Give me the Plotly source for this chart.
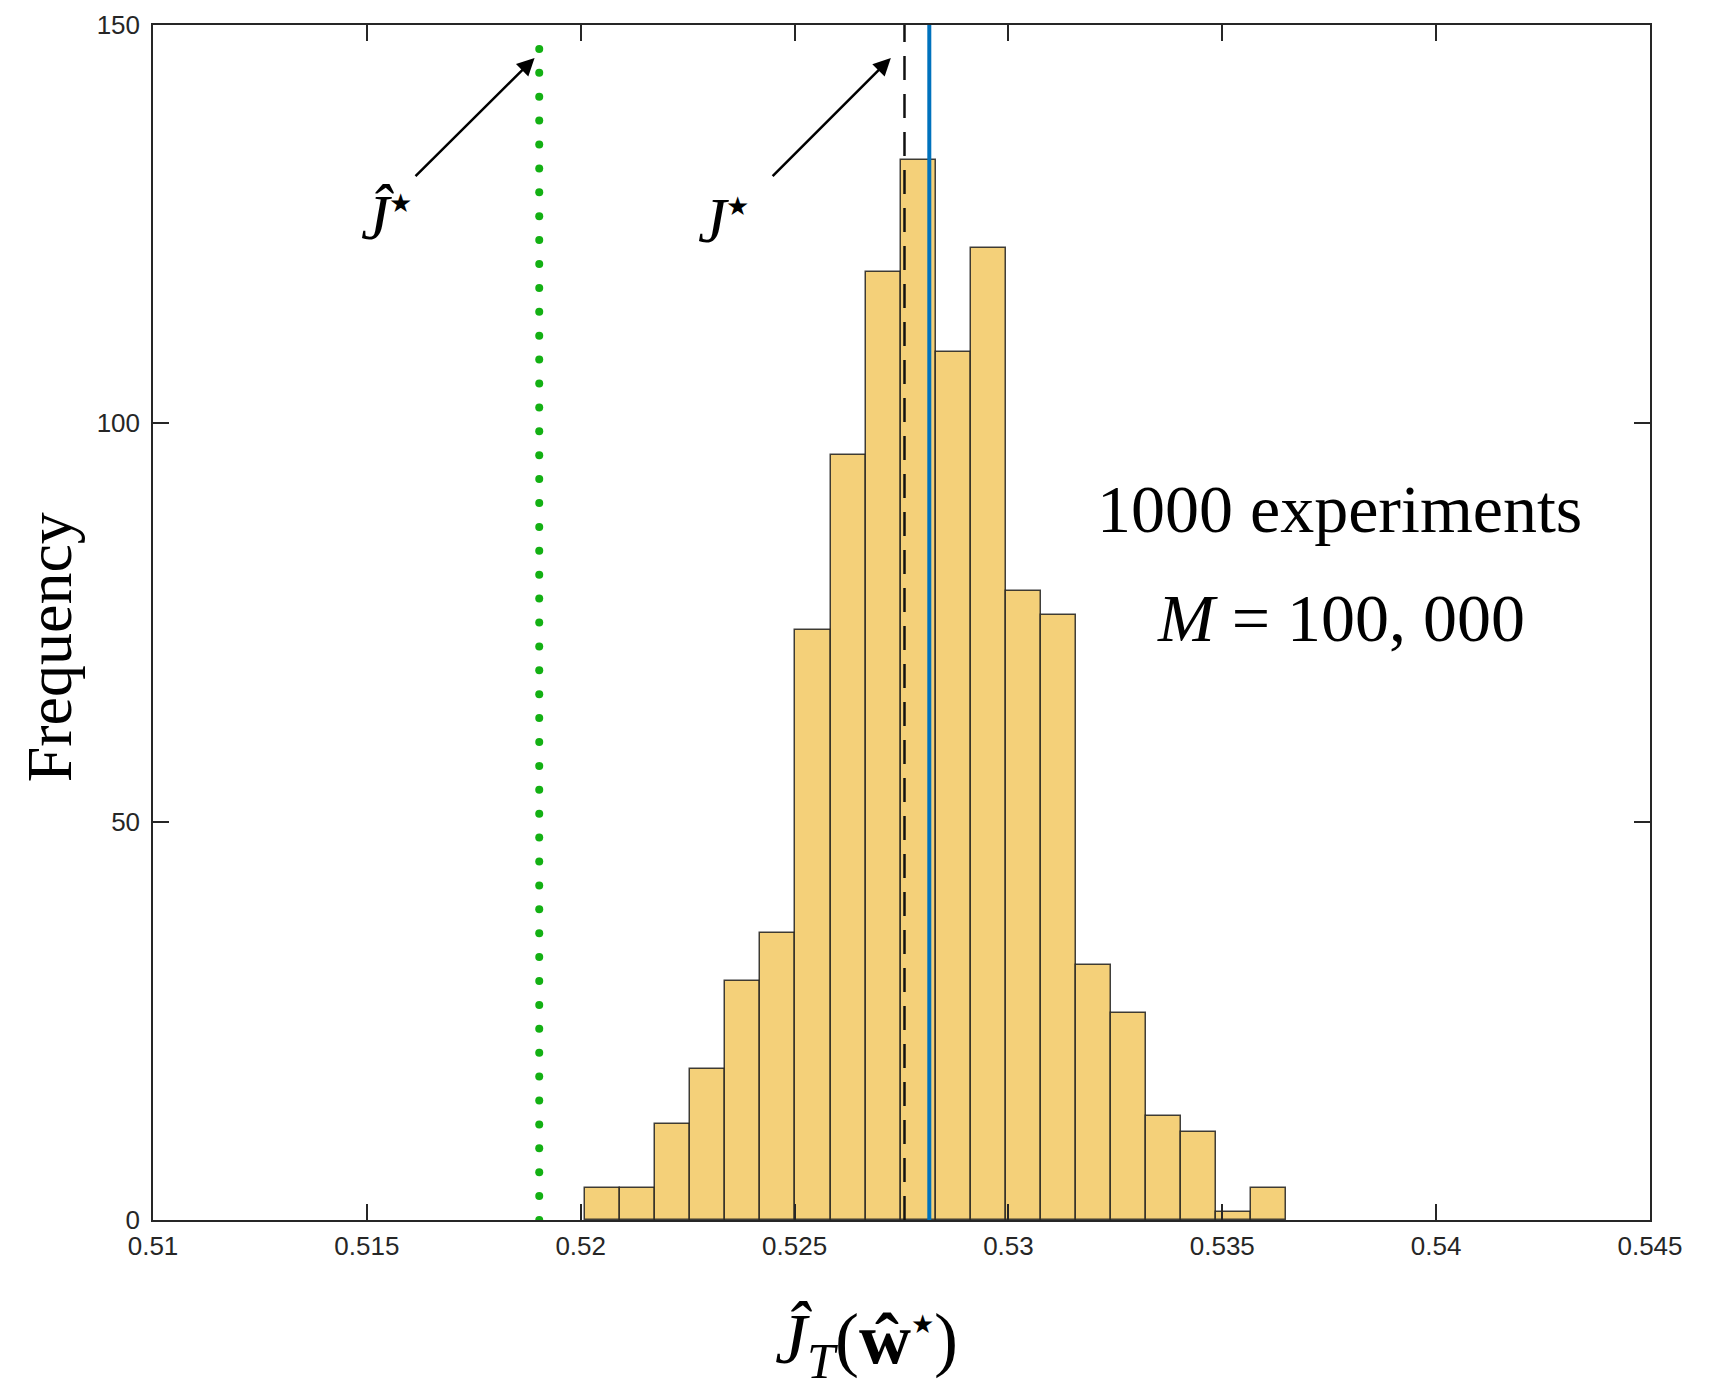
import numpy as np
import plotly.graph_objects as go

# ---- data ----
bin_edges = [0.52010, 0.52092, 0.52174, 0.52256, 0.52338, 0.52420, 0.52502,
             0.52584, 0.52666, 0.52748, 0.52830, 0.52912, 0.52994, 0.53076,
             0.53158, 0.53240, 0.53322, 0.53404, 0.53486, 0.53568, 0.53650]
counts = [4, 4, 12, 19, 30, 36, 74, 96, 119, 133, 109, 122, 79, 76, 32, 26, 13, 11, 1, 4]

J_hat_star = 0.51903      # green dotted line
J_star = 0.52757          # black dashed line
J_mean = 0.52815          # blue solid line

x_ticks = [0.51, 0.515, 0.52, 0.525, 0.53, 0.535, 0.54, 0.545]
x_tick_labels = ["0.51", "0.515", "0.52", "0.525", "0.53", "0.535", "0.54", "0.545"]
y_ticks = [0, 50, 100, 150]
y_tick_labels = ["0", "50", "100", "150"]

# ---- derived ----
edges = np.array(bin_edges)
centers = (edges[:-1] + edges[1:]) / 2
widths = np.diff(edges)

AX = "#262626"
fig = go.Figure()

fig.add_trace(go.Bar(
    x=centers, y=counts, width=widths,
    marker=dict(color="#F4D079", line=dict(color="rgba(30,30,30,0.85)", width=1.5)),
    showlegend=False, hoverinfo="x+y"))

# green dotted line drawn as round dots (line style)
dot_y = np.arange(0, 150, 3)
fig.add_trace(go.Scatter(
    x=[J_hat_star] * len(dot_y), y=dot_y, mode="markers",
    marker=dict(color="#13B013", size=8), showlegend=False, hoverinfo="skip"))

fig.add_trace(go.Scatter(
    x=[J_star, J_star], y=[0, 150], mode="lines",
    line=dict(color="#111111", width=2.5, dash="24px,14px"),
    showlegend=False, hoverinfo="skip"))

fig.add_trace(go.Scatter(
    x=[J_mean, J_mean], y=[0, 150], mode="lines",
    line=dict(color="#0072BD", width=4),
    showlegend=False, hoverinfo="skip"))

serif = "Liberation Serif, Times New Roman, serif"
star = '<sup><span style="font-size:26px">★</span></sup>'
annotations = [
    # arrows
    dict(x=0.518921, y=145.86, ax=0.516103, ay=130.84, xref="x", yref="y",
         axref="x", ayref="y", text="", showarrow=True, arrowhead=2,
         arrowsize=1.4, arrowwidth=2.5, arrowcolor="black", standoff=0),
    dict(x=0.527251, y=145.86, ax=0.524452, ay=130.84, xref="x", yref="y",
         axref="x", ayref="y", text="", showarrow=True, arrowhead=2,
         arrowsize=1.4, arrowwidth=2.5, arrowcolor="black", standoff=0),
    # labels
    dict(x=0.515449, y=125.8, xref="x", yref="y", showarrow=False,
         text="<i>Ĵ</i>" + star, font=dict(family=serif, size=64, color="black")),
    dict(x=0.523329, y=125.4, xref="x", yref="y", showarrow=False,
         text="<i>J</i>" + star, font=dict(family=serif, size=64, color="black")),
    dict(x=0.537734, y=89.3, xref="x", yref="y", showarrow=False,
         text="1000 experiments", font=dict(family=serif, size=68, color="black")),
    dict(x=0.537781, y=75.6, xref="x", yref="y", showarrow=False,
         text="<i>M</i> = 100, 000", font=dict(family=serif, size=68, color="black")),
    # axis titles
    dict(x=-0.0686, y=0.4795, xref="paper", yref="paper", showarrow=False,
         xanchor="center", yanchor="middle",
         text="Frequency", textangle=-90,
         font=dict(family=serif, size=64, color="black")),
    dict(x=0.4764, y=-0.104, xref="paper", yref="paper", showarrow=False,
         xanchor="center", yanchor="middle",
         text="<i>Ĵ</i><sub><i>T</i></sub>(<b>ŵ</b>" + star + ")",
         font=dict(family=serif, size=72, color="black")),
]

axis_common = dict(
    showgrid=False, zeroline=False, showline=True, linecolor=AX, linewidth=1.5,
    ticks="inside", ticklen=16, tickwidth=1.5, tickcolor=AX, mirror="ticks",
    automargin=False,
    tickfont=dict(family="Liberation Sans, Arial, sans-serif", size=26, color=AX),
)

fig.update_layout(
    width=1711, height=1385,
    margin=dict(l=145, r=69, t=17, b=173),
    paper_bgcolor="white", plot_bgcolor="white",
    xaxis=dict(range=[0.51, 0.545], tickvals=x_ticks, ticktext=x_tick_labels,
               ticklabelstandoff=2, **axis_common),
    yaxis=dict(range=[0, 150], tickvals=y_ticks, ticktext=y_tick_labels,
               ticklabelstandoff=6, **axis_common),
    annotations=annotations,
    bargap=0,
)

fig.write_html("out.html")
